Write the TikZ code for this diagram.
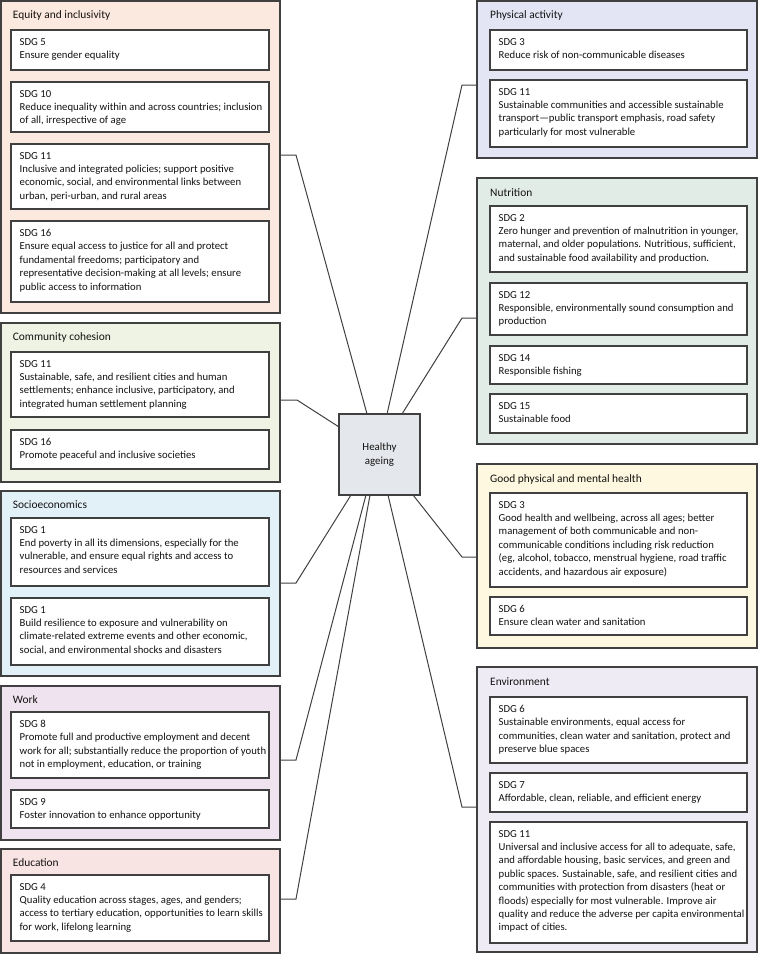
\documentclass[tikz,border=0pt]{standalone}
\usepackage{fontspec}
\setmainfont{Carlito}
\usetikzlibrary{calc}
\definecolor{bordc}{RGB}{64,64,64}
\definecolor{txtc}{RGB}{20,18,18}
\definecolor{eqcol}{RGB}{251,232,222}
\definecolor{cccol}{RGB}{238,243,228}
\definecolor{secol}{RGB}{226,240,248}
\definecolor{wkcol}{RGB}{238,227,238}
\definecolor{edcol}{RGB}{249,228,228}
\definecolor{pacol}{RGB}{227,229,244}
\definecolor{nucol}{RGB}{225,236,230}
\definecolor{ghcol}{RGB}{253,248,223}
\definecolor{encol}{RGB}{238,235,245}
\definecolor{hubcol}{RGB}{228,231,235}
\tikzset{
  panel/.style={draw=bordc, line width=1.2pt, anchor=north west, inner sep=0pt, outer sep=0pt},
  sdgbox/.style={draw=bordc, line width=1.2pt, fill=white, anchor=north west, inner sep=0pt, outer sep=0pt},
  sdgtxt/.style={anchor=north west, align=left, inner xsep=8.5pt, inner ysep=8pt, text=txtc,
    font=\fontsize{10.7}{13.4}\selectfont},
  ttl/.style={anchor=base west, inner sep=0pt, text=txtc, font=\fontsize{11.4}{13.4}\selectfont},
  conn/.style={draw=bordc, line width=1pt},
  hubbox/.style={draw=bordc, line width=1.2pt, fill=hubcol, inner sep=0pt, outer sep=0pt,
    minimum width=81pt, minimum height=81pt, align=center, text=txtc,
    font=\fontsize{10.9}{14}\selectfont}
}
\newcommand\sdgb[6]{%
  \node[sdgbox, minimum width=#4, minimum height=#5] (#1) at (#2,#3) {};
  \node[sdgtxt] (#1t) at (#1.north west) {#6};}
\begin{document}
\begin{tikzpicture}[x=1pt,y=-1pt]
\useasboundingbox (0,0) rectangle (758,954);
% ---------- left panels ----------
\node[panel, fill=eqcol, minimum width=279, minimum height=312] (eq) at (1,1) {};
\node[ttl] (eqT) at (12.7,18.5) {Equity and inclusivity};
\sdgb{eqa}{11}{30}{258}{40}{SDG 5\\Ensure gender equality}
\sdgb{eqb}{11}{82}{258}{50}{SDG 10\\Reduce inequality within and across countries; inclusion\\of all, irrespective of age}
\sdgb{eqc}{11}{144}{258}{65}{SDG 11\\Inclusive and integrated policies; support positive\\economic, social, and environmental links between\\urban, peri-urban, and rural areas}
\sdgb{eqd}{11}{221}{258}{81}{SDG 16\\Ensure equal access to justice for all and protect\\fundamental freedoms; participatory and\\representative decision-making at all levels; ensure\\public access to information}

\node[panel, fill=cccol, minimum width=279, minimum height=159] (cc) at (1,323) {};
\node[ttl] (ccT) at (12.7,340.5) {Community cohesion};
\sdgb{cca}{11}{352}{258}{65}{SDG 11\\Sustainable, safe, and resilient cities and human\\settlements; enhance inclusive, participatory, and\\integrated human settlement planning}
\sdgb{ccb}{11}{430}{258}{39}{SDG 16\\Promote peaceful and inclusive societies}

\node[panel, fill=secol, minimum width=279, minimum height=185] (se) at (1,491) {};
\node[ttl] (seT) at (12.7,508.5) {Socioeconomics};
\sdgb{sea}{11}{518}{258}{68}{SDG 1\\End poverty in all its dimensions, especially for the\\vulnerable, and ensure equal rights and access to\\resources and services}
\sdgb{seb}{11}{598}{258}{67}{SDG 1\\Build resilience to exposure and vulnerability on\\climate-related extreme events and other economic,\\social, and environmental shocks and disasters}

\node[panel, fill=wkcol, minimum width=279, minimum height=154] (wk) at (1,686) {};
\node[ttl] (wkT) at (12.7,703) {Work};
\sdgb{wka}{11}{712}{258}{66}{SDG 8\\Promote full and productive employment and decent\\work for all; substantially reduce the proportion of youth\\not in employment, education, or training}
\sdgb{wkb}{11}{790}{258}{38}{SDG 9\\Foster innovation to enhance opportunity}

\node[panel, fill=edcol, minimum width=279, minimum height=104] (ed) at (1,849) {};
\node[ttl] (edT) at (12.7,866) {Education};
\sdgb{eda}{11}{875}{258}{66}{SDG 4\\Quality education across stages, ages, and genders;\\access to tertiary education, opportunities to learn skills\\for work, lifelong learning}

% ---------- right panels ----------
\node[panel, fill=pacol, minimum width=280, minimum height=157] (pa) at (477,1) {};
\node[ttl] (paT) at (490,18.5) {Physical activity};
\sdgb{paa}{490}{30}{257}{40}{SDG 3\\Reduce risk of non-communicable diseases}
\sdgb{pab}{490}{80}{257}{67}{SDG 11\\Sustainable communities and accessible sustainable\\transport—public transport emphasis, road safety\\particularly for most vulnerable}

\node[panel, fill=nucol, minimum width=280, minimum height=266] (nu) at (477,178) {};
\node[ttl] (nuT) at (490,196) {Nutrition};
\sdgb{nua}{490}{206}{257}{66}{SDG 2\\Zero hunger and prevention of malnutrition in younger,\\maternal, and older populations. Nutritious, sufficient,\\and sustainable food availability and production.}
\sdgb{nub}{490}{283}{257}{52}{SDG 12\\Responsible, environmentally sound consumption and\\production}
\sdgb{nuc}{490}{346}{257}{38}{SDG 14\\Responsible fishing}
\sdgb{nud}{490}{394}{257}{39}{SDG 15\\Sustainable food}

\node[panel, fill=ghcol, minimum width=280, minimum height=184] (gh) at (477,464) {};
\node[ttl] (ghT) at (490,482.5) {Good physical and mental health};
\sdgb{gha}{490}{493}{257}{94}{SDG 3\\Good health and wellbeing, across all ages; better\\management of both communicable and non-\\communicable conditions including risk reduction\\(eg, alcohol, tobacco, menstrual hygiene, road traffic\\accidents, and hazardous air exposure)}
\sdgb{ghb}{490}{597}{257}{38}{SDG 6\\Ensure clean water and sanitation}

\node[panel, fill=encol, minimum width=280, minimum height=285] (en) at (477,667) {};
\node[ttl] (enT) at (490,685.5) {Environment};
\sdgb{ena}{490}{697}{257}{66}{SDG 6\\Sustainable environments, equal access for\\communities, clean water and sanitation, protect and\\preserve blue spaces}
\sdgb{enb}{490}{773}{257}{39}{SDG 7\\Affordable, clean, reliable, and efficient energy}
\sdgb{enc}{490}{822}{257}{121}{SDG 11\\Universal and inclusive access for all to adequate, safe,\\and affordable housing, basic services, and green and\\public spaces. Sustainable, safe, and resilient cities and\\communities with protection from disasters (heat or\\floods) especially for most vulnerable. Improve air\\quality and reduce the adverse per capita environmental\\impact of cities.}

% ---------- hub ----------
\node[hubbox] (hub) at (379.5,454.5) {Healthy\\ageing};

% ---------- connectors ----------
\coordinate (eqk) at (296,155);
\coordinate (cck) at (297,400);
\coordinate (sek) at (296,583);
\coordinate (wkk) at (296,760);
\coordinate (edk) at (296,899);
\coordinate (pak) at (462,85);
\coordinate (nuk) at (462,318);
\coordinate (ghk) at (462,557);
\coordinate (enk) at (462,807);
\draw[conn] (eq.east |- eqk) -- (eqk) -- ($(hub.north west)!0.346!(hub.north east)$);
\draw[conn] (cc.east |- cck) -- (cck) -- ($(hub.north west)!0.16!(hub.south west)$);
\draw[conn] (se.east |- sek) -- (sek) -- ($(hub.south west)!0.148!(hub.south east)$);
\draw[conn] (wk.east |- wkk) -- (wkk) -- ($(hub.south west)!0.333!(hub.south east)$);
\draw[conn] (ed.east |- edk) -- (edk) -- ($(hub.south west)!0.383!(hub.south east)$);
\draw[conn] (pa.west |- pak) -- (pak) -- ($(hub.north west)!0.593!(hub.north east)$);
\draw[conn] (nu.west |- nuk) -- (nuk) -- ($(hub.north west)!0.778!(hub.north east)$);
\draw[conn] (gh.west |- ghk) -- (ghk) -- ($(hub.south west)!0.914!(hub.south east)$);
\draw[conn] (en.west |- enk) -- (enk) -- ($(hub.south west)!0.605!(hub.south east)$);
\end{tikzpicture}
\end{document}
